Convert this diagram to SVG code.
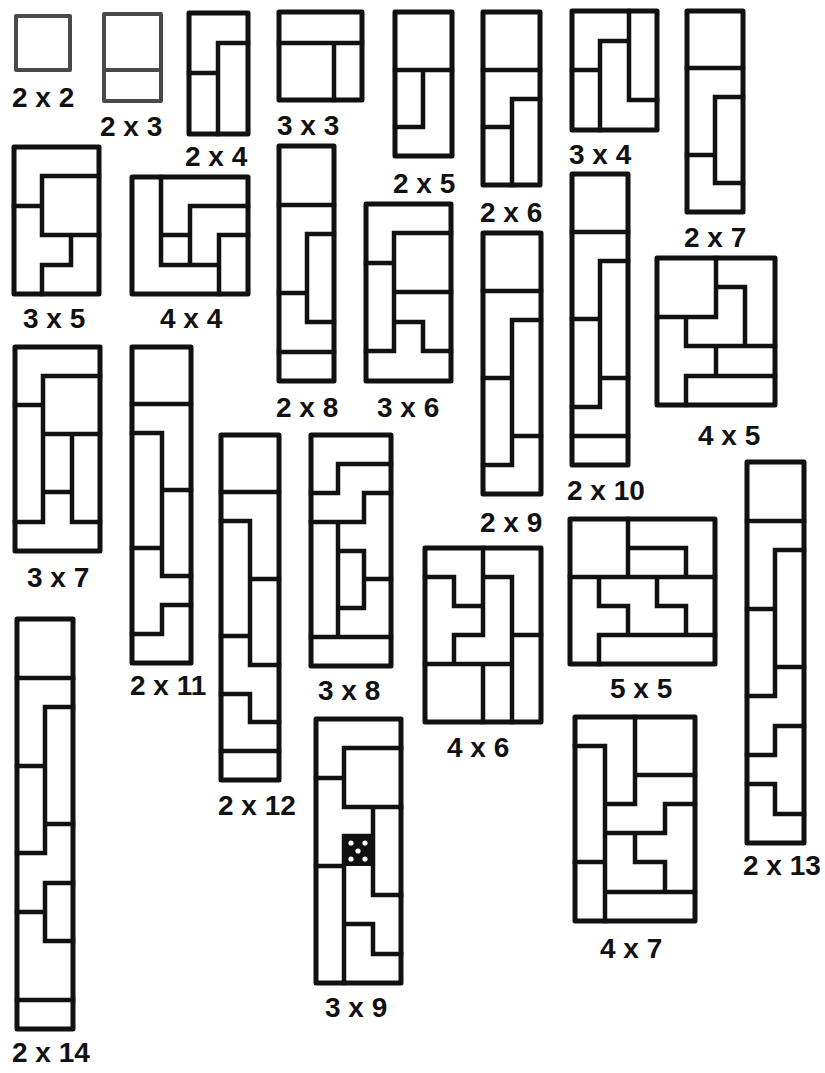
<svg xmlns="http://www.w3.org/2000/svg" width="825" height="1073" viewBox="0 0 825 1073">
<defs>
<style>
.box{fill:none;stroke:#111;stroke-width:5;stroke-linejoin:round}
.in{fill:none;stroke:#111;stroke-width:4.5;stroke-linejoin:miter;stroke-linecap:square}
.gray{stroke:#4a4a4a;stroke-width:4}
.lbl{font-family:"Liberation Sans",Arial,Helvetica,sans-serif;font-weight:bold;font-size:28px;fill:#111}
</style>
</defs>
<rect width="825" height="1073" fill="#fff"/>
<g id="r2x2"><rect class="box gray" x="16" y="16" width="54" height="54"/><text class="lbl" x="12" y="107">2 x 2</text></g>
<g id="r2x3"><rect class="box gray" x="104" y="14" width="57" height="87"/><path class="in gray" d="M104,70 H161"/><text class="lbl" x="100" y="136">2 x 3</text></g>
<g id="r2x4"><rect class="box" x="189" y="13" width="59" height="121"/><path class="in" d="M218,134 V43 H248 M189,73 H218"/><text class="lbl" x="185" y="166">2 x 4</text></g>
<g id="r3x3"><rect class="box" x="279" y="12" width="83" height="88"/><path class="in" d="M279,43 H362 M334,43 V100"/><text class="lbl" x="277" y="135">3 x 3</text></g>
<g id="r2x5"><rect class="box" x="395" y="12" width="57" height="144"/><path class="in" d="M395,70 H452 M423,70 V127 H395"/><text class="lbl" x="393" y="193">2 x 5</text></g>
<g id="r2x6"><rect class="box" x="483" y="12" width="57" height="173"/><path class="in" d="M483,70 H540 M540,99 H512 V185 M483,127 H512"/><text class="lbl" x="480" y="222">2 x 6</text></g>
<g id="r3x4"><rect class="box" x="572" y="11" width="85" height="119"/><path class="in" d="M629,11 V100 H657 M629,41 H600 V130 M572,70 H600"/><text class="lbl" x="569" y="164">3 x 4</text></g>
<g id="r2x7"><rect class="box" x="687" y="11" width="56" height="201"/><path class="in" d="M687,68 H743 M743,97 H715 V183 H743 M687,155 H715"/><text class="lbl" x="684" y="247">2 x 7</text></g>
<g id="r3x5"><rect class="box" x="14" y="147" width="85" height="147"/><path class="in" d="M99,176 H42 V235 H99 M14,206 H42 M71,235 V265 H42 V294"/><text class="lbl" x="23" y="328">3 x 5</text></g>
<g id="r4x4"><rect class="box" x="132" y="177" width="116" height="117"/><path class="in" d="M161,177 V265 H219 M161,235 H190 M190,265 V206 H248 M219,294 V235 H248"/><text class="lbl" x="160" y="328">4 x 4</text></g>
<g id="r2x8"><rect class="box" x="279" y="146" width="55" height="235"/><path class="in" d="M279,205 H334 M334,234 H307 V322 H334 M279,293 H307 M279,352 H334"/><text class="lbl" x="276" y="417">2 x 8</text></g>
<g id="r3x6"><rect class="box" x="366" y="204" width="85" height="177"/><path class="in" d="M366,263 H394 M451,233 H394 V351 H366 M394,292 H451 M394,322 H423 V351 H451"/><text class="lbl" x="377" y="417">3 x 6</text></g>
<g id="r2x9"><rect class="box" x="483" y="233" width="58" height="261"/><path class="in" d="M483,291 H541 M541,320 H512 V465 H483 M483,378 H512 M512,436 H541"/><text class="lbl" x="480" y="532">2 x 9</text></g>
<g id="r2x10"><rect class="box" x="572" y="174" width="56" height="291"/><path class="in" d="M572,232 H628 M628,261 H600 V407 H572 M572,319 H600 M600,378 H628 M572,436 H628"/><text class="lbl" x="567" y="500">2 x 10</text></g>
<g id="r4x5"><rect class="box" x="657" y="258" width="118" height="147"/><path class="in" d="M716,258 V317 H657 M716,287 H745 V346 M686,317 V346 H775 M716,346 V376 M686,405 V376 H775"/><text class="lbl" x="698" y="445">4 x 5</text></g>
<g id="r3x7"><rect class="box" x="15" y="347" width="85" height="204"/><path class="in" d="M100,376 H43 V522 H15 M15,405 H43 M43,434 H100 M72,434 V522 H100 M43,492 H72"/><text class="lbl" x="27" y="587">3 x 7</text></g>
<g id="r2x11"><rect class="box" x="132" y="347" width="59" height="316"/><path class="in" d="M132,404 H191 M132,433 H162 V576 H191 M162,490 H191 M132,548 H162 M191,605 H162 V634 H132"/><text class="lbl" x="130" y="695">2 x 11</text></g>
<g id="r2x12"><rect class="box" x="221" y="435" width="58" height="345"/><path class="in" d="M221,492 H279 M221,521 H250 V665 H279 M250,579 H279 M221,636 H250 M221,694 H250 V722 H279 M221,751 H279"/><text class="lbl" x="218" y="815">2 x 12</text></g>
<g id="r3x8"><rect class="box" x="311" y="435" width="80" height="231"/><path class="in" d="M391,464 H338 V493 H311 M391,493 H364 V522 H311 M338,522 V637 M338,551 H364 V608 H338 M364,579 H391 M311,637 H391"/><text class="lbl" x="318" y="700">3 x 8</text></g>
<g id="r4x6"><rect class="box" x="425" y="548" width="116" height="174"/><path class="in" d="M483,548 V635 M483,577 H512 M512,577 V722 M425,577 H454 V606 H483 M483,635 H454 V664 M425,664 H512 M512,635 H541 M483,664 V722"/><text class="lbl" x="447" y="757">4 x 6</text></g>
<g id="r5x5"><rect class="box" x="570" y="519" width="145" height="145"/><path class="in" d="M628,519 V577 M628,548 H686 V577 M570,577 H715 M599,577 V606 H628 V635 M657,577 V606 H686 V635 M599,635 H715 M599,635 V664"/><text class="lbl" x="610" y="698">5 x 5</text></g>
<g id="r2x13"><rect class="box" x="747" y="462" width="57" height="381"/><path class="in" d="M747,521 H804 M747,609 H775 M804,550 H775 V696 H747 M775,667 H804 M804,726 H775 V755 H747 M747,784 H775 V814 H804"/><text class="lbl" x="743" y="875">2 x 13</text></g>
<g id="r4x7"><rect class="box" x="575" y="717" width="120" height="204"/><path class="in" d="M575,746 H605 V921 M635,717 V804 H605 M635,775 H695 M695,804 H665 V833 H605 M635,833 V862 H665 V892 M605,892 H695 M575,862 H605"/><text class="lbl" x="600" y="958">4 x 7</text></g>
<g id="r3x9"><rect class="box" x="316" y="719" width="85" height="264"/><rect x="344" y="836" width="29" height="30" fill="#111"/><g fill="#fff"><circle cx="351" cy="843" r="2.6"/><circle cx="365" cy="843" r="2.6"/><circle cx="358" cy="851" r="2.6"/><circle cx="351" cy="859" r="2.6"/><circle cx="365" cy="859" r="2.6"/></g><path class="in" d="M401,748 H344 V807 H401 M316,778 H344 M373,807 V895 H401 M316,866 H344 M344,836 V983 M344,836 H373 M344,924 H373 V954 H401"/><text class="lbl" x="325" y="1017">3 x 9</text></g>
<g id="r2x14"><rect class="box" x="17" y="619" width="56" height="410"/><path class="in" d="M17,678 H73 M73,707 H45 V853 H17 M17,766 H45 M45,824 H73 M73,883 H45 V941 H73 M17,912 H45 M17,1000 H73"/><text class="lbl" x="12" y="1062">2 x 14</text></g>
<g id="connectors"/>
</svg>
